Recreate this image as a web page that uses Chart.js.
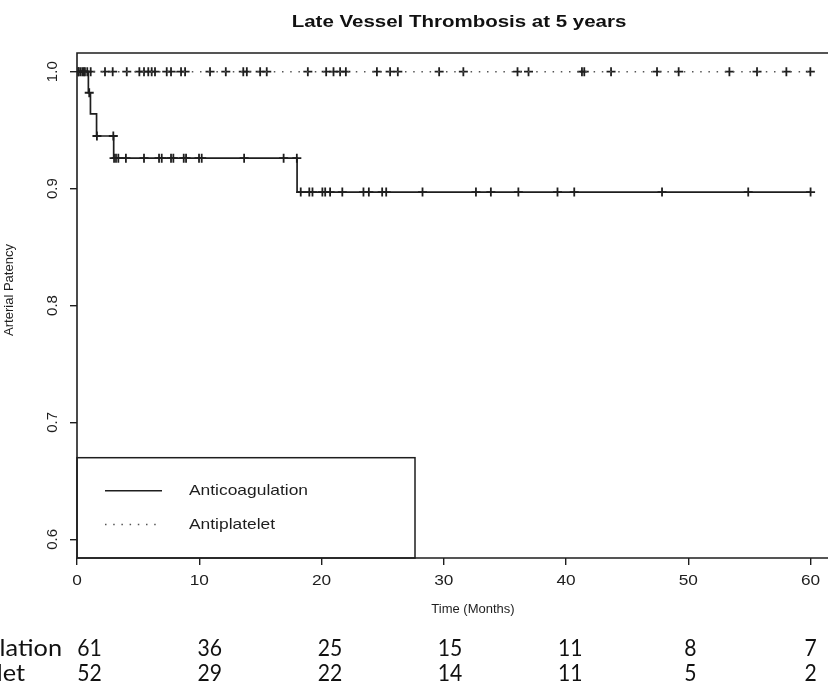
<!DOCTYPE html>
<html><head><meta charset="utf-8">
<script src="https://cdn.jsdelivr.net/npm/chart.js@4/dist/chart.umd.min.js"></script>
<style>html,body{margin:0;padding:0;background:#fff;overflow:hidden}#wrap{width:828px;height:686px;position:relative;overflow:hidden}</style>
</head><body><div id="wrap"><canvas id="c" width="834" height="686"></canvas></div>
<script>
// ---------------- data ----------------
const chartTitle = 'Late Vessel Thrombosis at 5 years';
const xTitle = 'Time (Months)';
const yTitle = 'Arterial Patency';
const seriesNames = ['Anticoagulation', 'Antiplatelet'];
const xTicks = [0, 10, 20, 30, 40, 50, 60];
const yTicks = [0.6, 0.7, 0.8, 0.9, 1.0];
const yTickLabels = ['0.6', '0.7', '0.8', '0.9', '1.0'];

// Kaplan-Meier step points (time, survival after the step)
const anticoagEventTimes = [0, 0.93, 1.1, 1.6, 3.0, 18.0, 60];
const anticoagSurvival   = [1.0, 0.982, 0.964, 0.945, 0.926, 0.897, 0.897];
const antiplateletEventTimes = [0, 60];
const antiplateletSurvival   = [1.0, 1.0];

// censoring times
const anticoagCensorTimes = [0.15, 0.55, 1.0, 1.63, 2.97, 3.03, 3.19, 3.38, 4.0, 5.48, 6.71, 6.93, 7.69, 7.88,
  8.73, 8.92, 9.98, 10.2, 13.67, 16.9, 17.98, 18.3, 19.0, 19.26, 20.07, 20.3, 20.7, 21.7, 23.43, 23.87,
  24.96, 25.29, 28.26, 32.63, 33.85, 36.1, 39.3, 40.67, 47.85, 54.9, 60.0];
const antiplateletCensorTimes = [0.1, 0.3, 0.45, 0.65, 0.84, 1.12, 2.29, 2.92, 4.07, 5.1, 5.48, 5.83, 6.11, 6.38,
  7.34, 7.69, 8.51, 8.84, 10.88, 12.17, 13.6, 13.89, 14.98, 15.52, 18.88, 20.38, 20.98, 21.52, 21.99,
  24.53, 25.61, 26.24, 29.62, 31.6, 36.03, 36.93, 41.3, 41.49, 43.68, 47.44, 49.21, 53.36, 55.62, 58.02, 59.98];

// numbers at risk
const atRiskAnticoag     = [61, 36, 25, 15, 11, 8, 7];
const atRiskAntiplatelet = [52, 29, 22, 14, 11, 5, 2];

// ---------------- helpers ----------------
function stepValue(times, surv, t) {
  let v = surv[0];
  for (let i = 0; i < times.length; i++) { if (times[i] <= t) v = surv[i]; }
  return v;
}
const pts = (xs, ys) => xs.map((x, i) => ({x, y: ys[i]}));
const censorPts = (cts, times, surv) => cts.map(t => ({x: t, y: stepValue(times, surv, t)}));

const INK = '#1e1e1e';
const SANS = '"Liberation Sans", Arial, Helvetica, sans-serif';
const NARROW = 'Lato, "Open Sans", sans-serif';

function drawText(ctx, txt, x, y, font, opts = {}) {
  ctx.save();
  ctx.translate(x, y);
  ctx.scale(opts.sx || 1, 1);
  if (opts.rot) ctx.rotate(opts.rot);
  ctx.font = font;
  ctx.fillStyle = opts.color || INK;
  ctx.textAlign = opts.align || 'center';
  ctx.textBaseline = opts.baseline || 'middle';
  ctx.fillText(txt, 0, 0);
  ctx.restore();
}

const decor = {
  id: 'decor',
  afterDraw(chart) {
    const ctx = chart.ctx, a = chart.chartArea;
    const xs = chart.scales.x, ys = chart.scales.y;
    // plot box (right side falls outside the picture)
    ctx.save();
    ctx.strokeStyle = INK; ctx.lineWidth = 1.6;
    ctx.beginPath();
    ctx.moveTo(840, a.top); ctx.lineTo(a.left, a.top); ctx.lineTo(a.left, a.bottom); ctx.lineTo(840, a.bottom);
    ctx.stroke();
    ctx.restore();
    // title
    drawText(ctx, chartTitle, 459, 23, 'bold 16px ' + SANS, {sx: 1.28, color: '#111'});
    // y tick labels (rotated)
    yTicks.forEach((v, i) => drawText(ctx, yTickLabels[i], 52.5, ys.getPixelForValue(v), '15px ' + SANS, {rot: -Math.PI / 2}));
    // y title
    drawText(ctx, yTitle, 9, 290, '13px ' + SANS, {rot: -Math.PI / 2});
    // x tick labels
    xTicks.forEach(v => drawText(ctx, String(v), xs.getPixelForValue(v), 581, '15px ' + SANS, {sx: 1.15}));
    // x title
    drawText(ctx, xTitle, 473, 609, '13px ' + SANS);
    // legend
    const lx = a.left, lt = 457.7, lr = 415;
    ctx.save();
    ctx.strokeStyle = INK; ctx.lineWidth = 1.5;
    ctx.strokeRect(lx, lt, lr - lx, a.bottom - lt);
    ctx.lineWidth = 1.6;
    ctx.beginPath(); ctx.moveTo(105, 490.7); ctx.lineTo(162, 490.7); ctx.stroke();
    ctx.setLineDash([1.5, 6.7]); ctx.lineWidth = 1.4; ctx.strokeStyle = '#555';
    ctx.beginPath(); ctx.moveTo(105, 524.5); ctx.lineTo(158, 524.5); ctx.stroke();
    ctx.restore();
    drawText(ctx, seriesNames[0], 189, 491, '15px ' + SANS, {align: 'left', sx: 1.16});
    drawText(ctx, seriesNames[1], 189, 525, '15px ' + SANS, {align: 'left', sx: 1.16});
    // numbers at risk table (row labels run off the left edge of the picture)
    const tf = '23px ' + NARROW;
    const rowY = [649, 674];
    drawText(ctx, seriesNames[0], 62, rowY[0], tf, {align: 'right', color: '#111', sx: 1.1});
    drawText(ctx, seriesNames[1], 25, rowY[1], tf, {align: 'right', color: '#111', sx: 1.1});
    const colLeft = 89.5, colStep = 120.2;
    xTicks.forEach((v, i) => {
      const px = colLeft + i * colStep;
      drawText(ctx, String(atRiskAnticoag[i]), px, rowY[0], tf, {color: '#111', sx: 0.92});
      drawText(ctx, String(atRiskAntiplatelet[i]), px, rowY[1], tf, {color: '#111', sx: 0.92});
    });
  }
};

new Chart(document.getElementById('c'), {
  type: 'scatter',
  data: {
    datasets: [
      { label: seriesNames[0], data: pts(anticoagEventTimes, anticoagSurvival), showLine: true, stepped: 'before',
        borderColor: INK, borderWidth: 1.7, pointRadius: 0, fill: false },
      { label: seriesNames[1], data: pts(antiplateletEventTimes, antiplateletSurvival), showLine: true,
        borderColor: '#555', borderWidth: 1.4, borderDash: [1.5, 6.7], pointRadius: 0, fill: false },
      { label: seriesNames[0] + ' censored', data: censorPts(anticoagCensorTimes, anticoagEventTimes, anticoagSurvival),
        showLine: false, pointStyle: 'cross', pointRadius: 4.5, borderColor: INK, borderWidth: 1.8 },
      { label: seriesNames[1] + ' censored', data: censorPts(antiplateletCensorTimes, antiplateletEventTimes, antiplateletSurvival),
        showLine: false, pointStyle: 'cross', pointRadius: 4.5, borderColor: INK, borderWidth: 1.8 }
    ]
  },
  options: {
    responsive: false, animation: false, devicePixelRatio: 1,
    layout: { padding: { top: 53, left: 0, right: 0, bottom: 0 } },
    plugins: { legend: { display: false }, title: { display: false }, tooltip: { enabled: false } },
    scales: {
      x: { type: 'linear', min: 0, max: 61.4, position: 'bottom',
        afterFit(s) { s.height = 128; },
        ticks: { display: false, stepSize: 10, includeBounds: false },
        grid: { drawOnChartArea: false, drawTicks: true, tickLength: 7, color: INK, lineWidth: 1.4 },
        border: { display: false } },
      y: { type: 'linear', min: 0.584, max: 1.016,
        afterFit(s) { s.width = 77; },
        ticks: { display: false, stepSize: 0.1, includeBounds: false },
        grid: { drawOnChartArea: false, drawTicks: true, tickLength: 7, color: INK, lineWidth: 1.4 },
        border: { display: false } }
    }
  },
  plugins: [decor]
});
</script></body></html>
